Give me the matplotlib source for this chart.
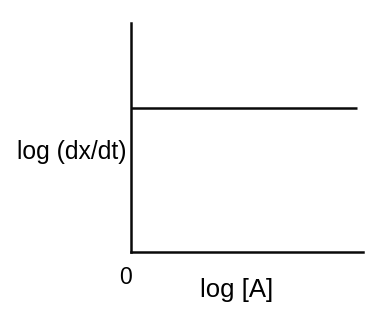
import matplotlib
matplotlib.use("Agg")
import matplotlib.pyplot as plt
from matplotlib.transforms import ScaledTranslation

# data (schematic: zero-order -> rate independent of [A])
log_A = [0.0, 0.974]
log_rate = [0.63, 0.63]
x_ticks = [0.0]
x_tick_labels = ["0"]

plt.rcParams['font.family'] = ['Liberation Sans', 'DejaVu Sans']

W, H = 382, 311
fig = plt.figure(figsize=(W / 100, H / 100), dpi=100)
ax = fig.add_axes([131 / W, (H - 252) / H, (363 - 131) / W, (252 - 23) / H])
ax.plot(log_A, log_rate, color="#0a0a0a", lw=1.8, solid_capstyle="butt")
ax.set_xlim(0, 1)
ax.set_ylim(0, 1)
for s in ["top", "right"]:
    ax.spines[s].set_visible(False)
for s in ["left", "bottom"]:
    ax.spines[s].set_linewidth(1.8)
    ax.spines[s].set_color("#0a0a0a")
ax.set_xticks(x_ticks)
ax.set_xticklabels(x_tick_labels, fontsize=16.5)
ax.set_yticks([])
ax.tick_params(axis="x", length=0, pad=10)
for lab in ax.get_xticklabels():
    lab.set_transform(lab.get_transform() + ScaledTranslation(-5.5 / 100, 0, fig.dpi_scale_trans))
ax.set_xlabel("log [A]", fontsize=18.5, labelpad=0)
ax.xaxis.set_label_coords(0.456, -0.115)
ax.set_ylabel("log (dx/dt)", fontsize=17.8, rotation=0, ha="right", va="center")
ax.yaxis.set_label_coords(-0.02, 0.435)
fig.savefig("out.png", dpi=100)
